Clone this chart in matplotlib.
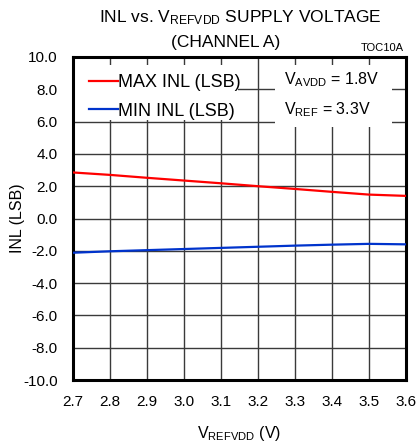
import matplotlib
matplotlib.use("Agg")
import matplotlib.pyplot as plt
import matplotlib.patches as mpatches

plt.rcParams["font.family"] = ["Liberation Sans", "DejaVu Sans"]
plt.rcParams["mathtext.default"] = "regular"

# data
vrefvdd = [2.7, 2.8, 2.9, 3.0, 3.1, 3.2, 3.3, 3.4, 3.5, 3.6]
max_inl = [2.85, 2.70, 2.52, 2.35, 2.18, 2.00, 1.83, 1.65, 1.48, 1.40]
min_inl = [-2.12, -2.03, -1.96, -1.89, -1.82, -1.75, -1.68, -1.62, -1.57, -1.60]

x_ticks = [2.7, 2.8, 2.9, 3.0, 3.1, 3.2, 3.3, 3.4, 3.5, 3.6]
y_ticks = [-10.0, -8.0, -6.0, -4.0, -2.0, 0.0, 2.0, 4.0, 6.0, 8.0, 10.0]

RED = "#FF0000"
BLUE = "#0033CC"

fig = plt.figure(figsize=(4.17, 4.43), dpi=100)
ax = fig.add_axes([73 / 417, 63 / 443, 333 / 417, 323 / 443])

ax.plot(vrefvdd, max_inl, color=RED, lw=1.6, label="MAX INL (LSB)", zorder=3)
ax.plot(vrefvdd, min_inl, color=BLUE, lw=1.6, label="MIN INL (LSB)", zorder=3)

ax.set_xlim(2.7, 3.6)
ax.set_ylim(-10, 10)
ax.set_xticks(x_ticks)
ax.set_xticklabels([f"{v:.1f}" for v in x_ticks])
ax.set_yticks(y_ticks)
ax.set_yticklabels([f"{v:.1f}" for v in y_ticks])
ax.tick_params(length=0, labelsize=11, pad=11)
ax.tick_params(axis="y", pad=11)

ax.set_axisbelow(True)
ax.grid(True, color="#3a3a3a", lw=1.0)
for s in ax.spines.values():
    s.set_linewidth(2.2)

# white boxes that hide the grid under the legend and the note
ax.add_patch(mpatches.Rectangle((0, 0.805), 0.495, 0.17, transform=ax.transAxes,
                                facecolor="white", edgecolor="none", zorder=1))
ax.add_patch(mpatches.Rectangle((0.607, 0.783), 0.351, 0.192, transform=ax.transAxes,
                                facecolor="white", edgecolor="none", zorder=1))

ax.legend(loc="upper left", bbox_to_anchor=(0.01, 0.985), frameon=False,
          fontsize=13, handlelength=1.6, handletextpad=0.0, labelspacing=0.62,
          borderpad=0.2)

ax.text(0.635, 0.93, "$V_{AVDD}$ = 1.8V", transform=ax.transAxes,
        fontsize=11.5, va="center", ha="left", zorder=4)
ax.text(0.635, 0.836, "$V_{REF}$ = 3.3V", transform=ax.transAxes,
        fontsize=11.5, va="center", ha="left", zorder=4)

fig.text(240 / 417, 1 - 18 / 443, "INL vs. $V_{REFVDD}$ SUPPLY VOLTAGE",
         ha="center", va="center", fontsize=12.5)
fig.text(226 / 417, 1 - 42 / 443, "(CHANNEL A)", ha="center", va="center", fontsize=12.5)
fig.text(404 / 417, 1 - 48 / 443, "TOC10A", ha="right", va="center", fontsize=8)

ax.set_xlabel("$V_{REFVDD}$ (V)", fontsize=11.5)
ax.xaxis.set_label_coords(0.5, -0.135)
ax.set_ylabel("INL (LSB)", fontsize=11.5)
ax.yaxis.set_label_coords(-0.145, 0.5)

fig.savefig("out.png", dpi=100)
